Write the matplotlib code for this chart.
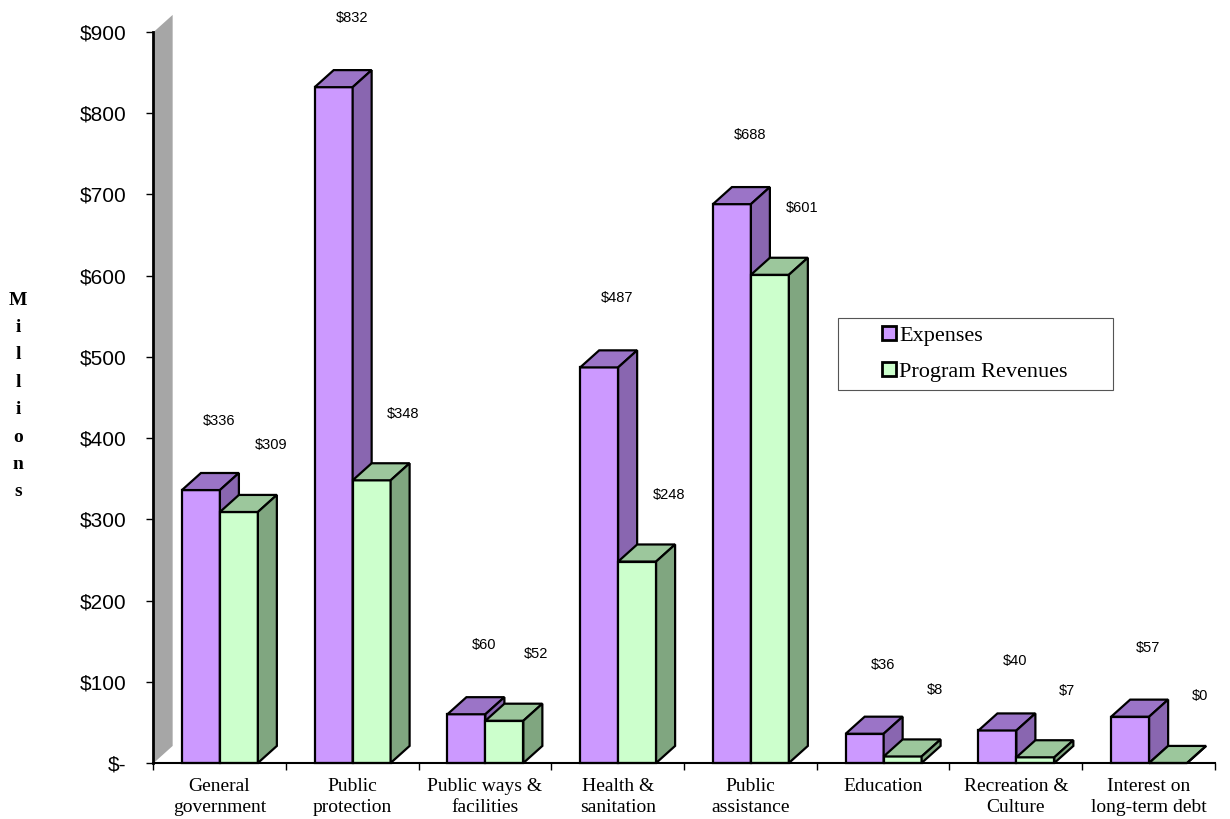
import matplotlib.pyplot as plt
from matplotlib.patches import Polygon, Rectangle, Patch

categories = ['General\ngovernment', 'Public\nprotection', 'Public ways &\nfacilities',
              'Health &\nsanitation', 'Public\nassistance', 'Education',
              'Recreation &\nCulture', 'Interest on\nlong-term debt']
expenses = [336, 832, 60, 487, 688, 36, 40, 57]
revenues = [309, 348, 52, 248, 601, 8, 7, 0]
yticks = [0, 100, 200, 300, 400, 500, 600, 700, 800, 900]
ytick_labels = ['$-', '$100', '$200', '$300', '$400', '$500', '$600', '$700', '$800', '$900']

exp_colors = ('#cc99ff', '#9b74c7', '#8966b0')   # front, top, side
rev_colors = ('#ccffcc', '#9cc79c', '#80a680')

bar_w = 0.286
gap = 0.218
dx = 0.143   # depth in category units
dy = 21.0    # depth in value units

fig = plt.figure(figsize=(12.3, 8.19), dpi=100)
ax = fig.add_axes([0.1244, 0.0684, 0.8634, 0.8926])
ax.set_xlim(0, 8)
ax.set_ylim(0, 900)


def box3d(x0, h, colors):
    front = Rectangle((x0, 0), bar_w, h, facecolor=colors[0], edgecolor='black', lw=1.6,
                      clip_on=False, zorder=3)
    top = Polygon([(x0, h), (x0 + dx, h + dy), (x0 + bar_w + dx, h + dy), (x0 + bar_w, h)],
                  closed=True, facecolor=colors[1], edgecolor='black', lw=1.6, clip_on=False, zorder=3)
    side = Polygon([(x0 + bar_w, 0), (x0 + bar_w + dx, dy), (x0 + bar_w + dx, h + dy), (x0 + bar_w, h)],
                   closed=True, facecolor=colors[2], edgecolor='black', lw=1.6, clip_on=False, zorder=3)
    for p in (front, top, side):
        ax.add_patch(p)


# back wall along the value axis
ax.add_patch(Polygon([(0.005, 0), (0.005 + dx, dy), (0.005 + dx, 900 + dy), (0.005, 900)],
                     closed=True, facecolor='#a6a6a6', edgecolor='none', clip_on=False, zorder=1))

for i in range(len(categories)):
    xe = i + gap
    xr = xe + bar_w
    box3d(xe, expenses[i], exp_colors)
    box3d(xr, revenues[i], rev_colors)
    ax.text(xe + bar_w / 2 + 0.136, expenses[i] + 85, f'${expenses[i]}', ha='center', va='center',
            fontsize=10.5, family='Liberation Sans')
    ax.text(xr + bar_w / 2 + 0.24, revenues[i] + 82, f'${revenues[i]}', ha='center', va='center',
            fontsize=10.5, family='Liberation Sans')

for s in ('top', 'right'):
    ax.spines[s].set_visible(False)
ax.spines['left'].set_linewidth(2)
ax.spines['bottom'].set_linewidth(1.5)
ax.spines['left'].set_zorder(5)
ax.spines['bottom'].set_zorder(5)

ax.set_yticks(yticks)
ax.set_yticklabels(ytick_labels, family='Liberation Sans', fontsize=15)
ax.tick_params(axis='y', length=5, width=1, pad=14)

ax.set_xticks(range(9))
ax.set_xticklabels([])
ax.set_xticks([i + 0.5 for i in range(8)], minor=True)
ax.set_xticklabels(categories, minor=True, family='Liberation Serif', fontsize=14, linespacing=1.3)
ax.tick_params(axis='x', which='major', length=5, width=1)
ax.tick_params(axis='x', which='minor', length=0, pad=11)

fig.text(18 / 1230, 1 - 396 / 819, '\n'.join('Millions'), ha='center', va='center',
         family='Liberation Serif', fontweight='bold', fontsize=14, linespacing=1.8)

# legend
fig.patches.append(Rectangle((838 / 1230, 1 - 390 / 819), 275 / 1230, 72 / 819,
                             transform=fig.transFigure, facecolor='white', edgecolor='#555555', lw=0.8))
handles = [Patch(facecolor=exp_colors[0], edgecolor='black', lw=2, label='Expenses'),
           Patch(facecolor=rev_colors[0], edgecolor='black', lw=2, label='Program Revenues')]
fig.legend(handles=handles, loc='center', bbox_to_anchor=(975 / 1230, 1 - 354 / 819), frameon=False,
           prop={'family': 'Liberation Serif', 'size': 16}, handlelength=0.6, handleheight=0.6,
           handletextpad=0.15, labelspacing=0.7)

fig.savefig('out.png', dpi=100)
